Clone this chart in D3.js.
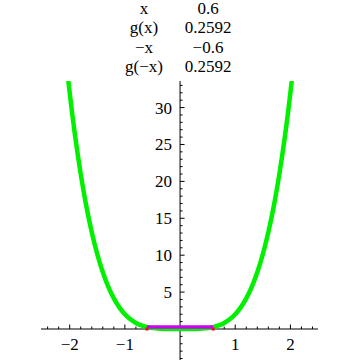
<!DOCTYPE html>
<html>
<head>
<meta charset="utf-8">
<script src="https://cdn.jsdelivr.net/npm/d3@7"></script>
<style>
  html, body { margin: 0; padding: 0; background: #fff; }
  svg { display: block; }
</style>
</head>
<body>
<div id="chart"></div>
<script>
// curve samples g(x)
const curveX = [-2.1, -2.0, -1.9, -1.8, -1.7, -1.6, -1.5, -1.4, -1.3, -1.2, -1.1, -1.0,
  -0.9, -0.8, -0.7, -0.6, -0.5, -0.4, -0.3, -0.2, -0.1, 0,
  0.1, 0.2, 0.3, 0.4, 0.5, 0.6, 0.7, 0.8, 0.9, 1.0,
  1.1, 1.2, 1.3, 1.4, 1.5, 1.6, 1.7, 1.8, 1.9, 2.0, 2.1];
const curveY = [38.9, 32, 26.06, 21.0, 16.7, 13.11, 10.13, 7.68, 5.71, 4.15, 2.93, 2.0,
  1.31, 0.82, 0.48, 0.26, 0.125, 0.051, 0.016, 0.003, 0.0002, 0,
  0.0002, 0.003, 0.016, 0.051, 0.125, 0.26, 0.48, 0.82, 1.31, 2.0,
  2.93, 4.15, 5.71, 7.68, 10.13, 13.11, 16.7, 21.0, 26.06, 32, 38.9];

// the highlighted segment between -x and x
const segX = [-0.6, 0.6];
const segY = [0.2592, 0.2592];
const markX = [-0.6, 0.6];

const xTicks = [-2, -1, 1, 2];
const yTicks = [5, 10, 15, 20, 25, 30];

const tableLabels = ['x', 'g(x)', '\u2212x', 'g(\u2212x)'];
const tableValues = ['0.6', '0.2592', '\u22120.6', '0.2592'];

const width = 360, height = 360;
const font = "'Liberation Serif', 'Times New Roman', serif";

const x = d3.scaleLinear().domain([-2.52, 2.5]).range([41, 318]);
const y = d3.scaleLinear().domain([-4.2, 33.6]).range([360, 81]);

const svg = d3.select('#chart').append('svg')
  .attr('width', width)
  .attr('height', height);

svg.append('clipPath').attr('id', 'plot-clip')
  .append('rect')
  .attr('x', x.range()[0])
  .attr('y', y.range()[1])
  .attr('width', x.range()[1] - x.range()[0])
  .attr('height', y.range()[0] - y.range()[1]);

// header table
const table = svg.append('g').attr('class', 'table');
tableLabels.forEach((t, i) => {
  table.append('text')
    .attr('x', 144).attr('y', 14 + i * 19.3)
    .attr('text-anchor', 'middle')
    .attr('font-family', font)
    .attr('font-size', 17)
    .text(t);
  table.append('text')
    .attr('x', 208).attr('y', 14 + i * 19.3)
    .attr('text-anchor', 'middle')
    .attr('font-family', font)
    .attr('font-size', 17)
    .text(tableValues[i]);
});

// axes
const axes = svg.append('g').attr('class', 'axes');
axes.append('line')
  .attr('x1', x.range()[0]).attr('x2', x.range()[1])
  .attr('y1', y(0)).attr('y2', y(0))
  .attr('stroke', '#000').attr('stroke-width', 1);
axes.append('line')
  .attr('x1', x(0)).attr('x2', x(0))
  .attr('y1', y.range()[1]).attr('y2', y.range()[0])
  .attr('stroke', '#000').attr('stroke-width', 1);

// x ticks: minor every 0.2, major at integers
const xMinor = d3.range(-12, 13).filter(i => i !== 0);
axes.selectAll('.xtick')
  .data(xMinor)
  .enter().append('line')
  .attr('class', 'xtick')
  .attr('x1', d => x(d / 5)).attr('x2', d => x(d / 5))
  .attr('y1', y(0))
  .attr('y2', d => y(0) - (d % 5 === 0 ? 4.5 : 2.5))
  .attr('stroke', '#000').attr('stroke-width', 1);

axes.selectAll('.xlabel')
  .data(xTicks)
  .enter().append('text')
  .attr('class', 'xlabel')
  .attr('x', d => x(d))
  .attr('y', 350)
  .attr('text-anchor', 'middle')
  .attr('font-family', font)
  .attr('font-size', 17)
  .text(d => d < 0 ? '\u2212' + Math.abs(d) : d);

// y ticks: minor every 1, major every 5
const yMinor = d3.range(-4, 34).filter(v => v !== 0);
axes.selectAll('.ytick')
  .data(yMinor)
  .enter().append('line')
  .attr('class', 'ytick')
  .attr('x1', x(0))
  .attr('x2', d => x(0) + (d % 5 === 0 ? 4.5 : 2.5))
  .attr('y1', d => y(d)).attr('y2', d => y(d))
  .attr('stroke', '#000').attr('stroke-width', 1);

axes.selectAll('.ylabel')
  .data(yTicks)
  .enter().append('text')
  .attr('class', 'ylabel')
  .attr('x', 172)
  .attr('y', d => y(d))
  .attr('dy', '0.35em')
  .attr('text-anchor', 'end')
  .attr('font-family', font)
  .attr('font-size', 17)
  .text(d => d);

// curve
const line = d3.line()
  .x(d => x(d[0]))
  .y(d => y(d[1]))
  .curve(d3.curveCatmullRom);

svg.append('path')
  .datum(curveX.map((v, i) => [v, curveY[i]]))
  .attr('clip-path', 'url(#plot-clip)')
  .attr('fill', 'none')
  .attr('stroke', '#00f000')
  .attr('stroke-width', 4.5)
  .attr('stroke-linejoin', 'round')
  .attr('d', line);

// red markers at -x and x on the axis
svg.selectAll('.mark')
  .data(markX)
  .enter().append('rect')
  .attr('class', 'mark')
  .attr('x', d => x(d) - 1.5)
  .attr('y', y(0) - 1.5)
  .attr('width', 3).attr('height', 3)
  .attr('fill', '#ff0000');

// magenta segment
svg.append('path')
  .datum(segX.map((v, i) => [v, segY[i]]))
  .attr('fill', 'none')
  .attr('stroke', '#cc00ee')
  .attr('stroke-width', 3.5)
  .attr('d', d3.line().x(d => x(d[0])).y(d => y(d[1])));
</script>
</body>
</html>
